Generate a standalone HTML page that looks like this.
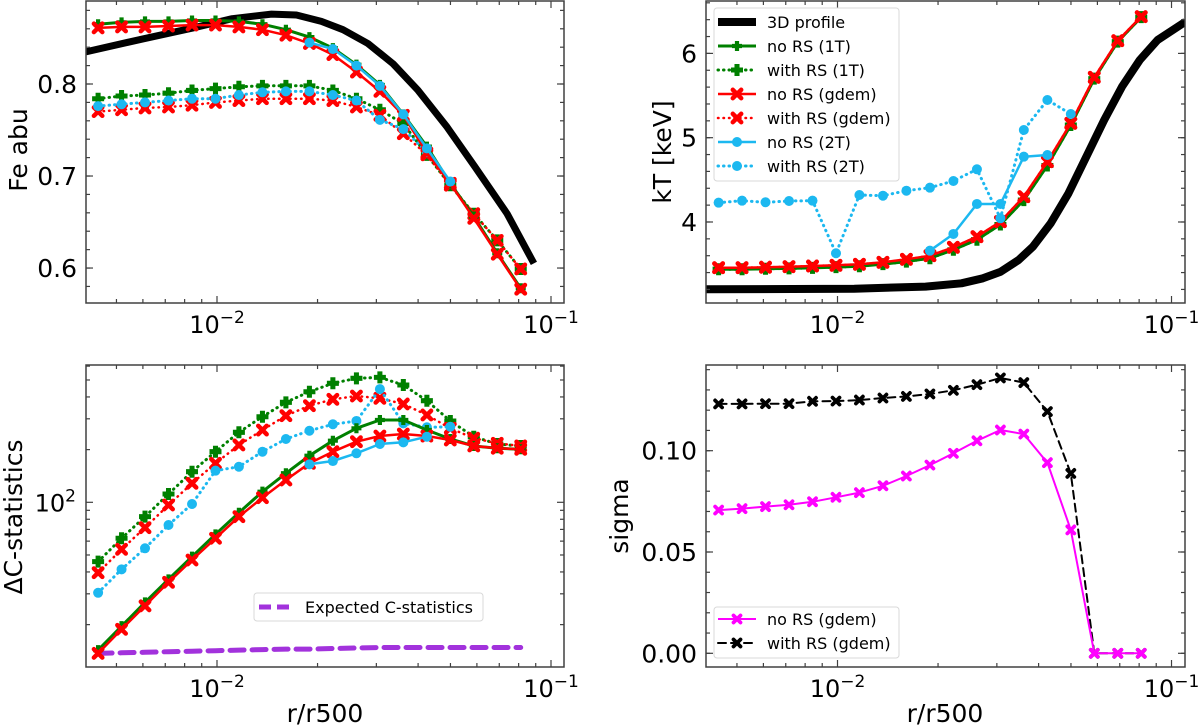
<!DOCTYPE html>
<html><head><meta charset="utf-8"><style>
html,body{margin:0;padding:0;background:#fff;}
svg{display:block;font-family:"DejaVu Sans","Liberation Sans",sans-serif;}
</style></head><body>
<svg id="fig" width="1200" height="727" viewBox="0 0 1200 727" xmlns="http://www.w3.org/2000/svg"></svg>
<script>
// ---------- data ----------
const radii = [0.004406,0.005179,0.006088,0.007159,0.008418,0.009897,0.01163,0.01368,0.01608,0.01891,0.02223,0.02615,0.03074,0.03613,0.04250,0.04995,0.05872,0.06904,0.08117];

// Fe abundance
const feProfileR = [0.00405,0.00600,0.00848,0.01110,0.01456,0.01729,0.02054,0.02384,0.02830,0.03367,0.04000,0.04866,0.05919,0.07390,0.08890];
const feProfileV = [0.835,0.849,0.861,0.871,0.876,0.875,0.868,0.859,0.844,0.822,0.793,0.754,0.710,0.659,0.605];
const feNoRS1T = [0.865,0.867,0.868,0.868,0.869,0.869,0.868,0.865,0.859,0.851,0.839,0.821,0.799,0.767,0.732,0.692,0.656,0.616,0.578];
const feRS1T = [0.784,0.787,0.788,0.790,0.793,0.795,0.797,0.798,0.798,0.798,0.793,0.784,0.772,0.757,0.723,0.690,0.659,0.630,0.599];
const feNoRSgdem = [0.861,0.862,0.862,0.863,0.864,0.864,0.862,0.859,0.853,0.844,0.832,0.813,0.792,0.766,0.725,0.692,0.654,0.615,0.577];
const feRSgdem = [0.770,0.772,0.774,0.775,0.777,0.780,0.782,0.784,0.784,0.784,0.782,0.775,0.766,0.746,0.723,0.690,0.659,0.630,0.599];
const feNoRS2T = [null,null,null,null,null,null,null,null,null,0.845,0.838,0.820,0.798,0.767,0.730,0.694,null,null,null];
const feRS2T = [0.776,0.778,0.780,0.782,0.784,0.784,0.788,0.791,0.792,0.792,0.788,0.782,0.761,0.751,0.726,null,null,null,null];

// Temperature
const ktProfileR = [0.00405,0.01123,0.01836,0.02350,0.02724,0.03081,0.03485,0.03845,0.04348,0.04916,0.05559,0.06286,0.07108,0.08037,0.09088,0.1101];
const ktProfileV = [3.202,3.209,3.233,3.273,3.332,3.410,3.549,3.707,3.985,4.340,4.775,5.210,5.605,5.922,6.159,6.376];
const ktNoRS1T = [3.44,3.44,3.445,3.45,3.455,3.465,3.475,3.50,3.53,3.57,3.67,3.79,3.97,4.26,4.67,5.15,5.70,6.14,6.43];
const ktRS1T = [3.44,3.44,3.445,3.45,3.455,3.465,3.475,3.50,3.53,3.57,3.67,3.79,3.97,4.26,4.67,5.15,5.70,6.14,6.43];
const ktNoRSgdem = [3.458,3.458,3.463,3.470,3.478,3.486,3.498,3.522,3.557,3.600,3.700,3.826,4.004,4.300,4.715,5.171,5.716,6.151,6.436];
const ktRSgdem = [3.458,3.458,3.463,3.470,3.478,3.486,3.498,3.522,3.557,3.600,3.700,3.826,4.004,4.300,4.715,5.171,5.716,6.151,6.436];
const ktNoRS2T = [null,null,null,null,null,null,null,null,null,3.660,3.858,4.214,4.214,4.775,4.795,null,null,null,null];
const ktRS2T = [4.229,4.253,4.234,4.249,4.253,3.629,4.320,4.312,4.371,4.407,4.486,4.625,4.044,5.091,5.447,5.281,null,null,null];

// Delta C-statistics
const dcNoRS1T = [14.3,19.6,26.8,36.3,48.9,65.6,87.2,115.0,146.5,184.6,224.9,264.8,295.3,295.3,258.8,230.0,209.9,203.6,200.9];
const dcRS1T = [45.8,62.3,82.8,111.5,149.6,194.6,251.2,308.3,372.7,428.5,478.6,511.1,517.6,468.1,380.7,291.4,237.1,215.4,209.9];
const dcNoRSgdem = [13.7,18.8,25.6,34.9,46.8,62.3,82.8,106.2,134.1,167.0,194.6,222.0,239.2,245.5,239.2,227.0,209.9,203.6,200.9];
const dcRSgdem = [39.6,53.9,71.6,96.5,128.4,167.0,212.6,258.8,312.6,356.5,387.9,404.9,392.7,364.6,315.5,264.8,232.3,217.3,209.9];
const dcNoRS2T = [null,null,null,null,null,null,null,null,null,164.8,172.1,190.6,215.4,220.2,237.1,null,null,null,null];
const dcRS2T = [30.4,41.4,54.6,74.2,97.8,151.6,159.7,194.6,230.0,256.4,279.2,291.6,443.7,282.7,268.3,270.4,null,null,null];
const dcExpected = [13.7,13.8,13.9,14.0,14.1,14.2,14.3,14.4,14.5,14.5,14.6,14.7,14.8,14.8,14.8,14.8,14.8,14.8,14.8];

// sigma
const sigNoRS = [0.0707,0.0714,0.0724,0.0733,0.0748,0.0770,0.0793,0.0827,0.0875,0.0929,0.0987,0.1049,0.1102,0.1082,0.0941,0.0609,0,0,0];
const sigRS = [0.1231,0.1231,0.1232,0.1232,0.1244,0.1245,0.1250,0.1260,0.1268,0.1280,0.1298,0.1326,0.1359,0.1336,0.1193,0.0888,0,0,0];

const feTicks = [0.6,0.7,0.8];
const ktTicks = [4,5,6];
const sigTicks = [0.00,0.05,0.10];

// ---------- drawing ----------
const NS = "http://www.w3.org/2000/svg";
const fig = document.getElementById('fig');
function mk(tag, attrs, parent){
  const e = document.createElementNS(NS, tag);
  for (const k in attrs) e.setAttribute(k, attrs[k]);
  (parent||fig).appendChild(e);
  return e;
}
const GREEN="#008000", RED="#ff0000", BLUE="#1cb8f0", PURPLE="#a232dc", MAG="#ff00ff";
const FR="#404040";

function makePanel(id, L, R, T, B, xlo, xhi, ylog, ylo, yhi){
  const g = mk('g', {});
  
  
  const cp = mk('clipPath', {id: id+'-clip'}, g);
  mk('rect', {x:L, y:T, width:R-L, height:B-T}, cp);
  const p = {g, L, R, T, B,
    sx: r => L + (Math.log10(r)-xlo)/(xhi-xlo)*(R-L),
    sy: v => ylog ? B - (Math.log10(v)-ylo)/(yhi-ylo)*(B-T) : B - (v-ylo)/(yhi-ylo)*(B-T)};
  p.plot = mk('g', {'clip-path':'url(#'+id+'-clip)'}, g);
  
  
  for (let d=-3; d<=-1; d++){
    for (let m=1; m<=9; m++){
      const r = m*Math.pow(10,d);
      const lx = Math.log10(r);
      if (lx < xlo || lx > xhi) continue;
      const x = p.sx(r), len = m===1?7:4;
      mk('line',{x1:x,y1:B,x2:x,y2:B-len,stroke:FR,'stroke-width':1.2},g);
      mk('line',{x1:x,y1:T,x2:x,y2:T+len,stroke:FR,'stroke-width':1.2},g);
      if (m===1){
        const t = mk('text',{x:x,y:B+30,'font-size':24,'text-anchor':'middle',fill:'#000'},g);
        
        
        t.innerHTML = '10<tspan dy="-10" font-size="17">\u2212' + (-d) + '</tspan>';
      }
    }
  }
  mk('rect',{x:L,y:T,width:R-L,height:B-T,fill:'none',stroke:FR,'stroke-width':1.5},g);
  return p;
}
function yTickLin(p, ticks, minorStep, lo, hi, fmt){
  for (let v=Math.ceil(lo/minorStep)*minorStep; v<=hi; v+=minorStep){
    const y=p.sy(v);
    mk('line',{x1:p.L,y1:y,x2:p.L+4,y2:y,stroke:FR,'stroke-width':1.2},p.g);
    mk('line',{x1:p.R,y1:y,x2:p.R-4,y2:y,stroke:FR,'stroke-width':1.2},p.g);
  }
  ticks.forEach(v=>{
    const y=p.sy(v);
    mk('line',{x1:p.L,y1:y,x2:p.L+7,y2:y,stroke:FR,'stroke-width':1.2},p.g);
    mk('line',{x1:p.R,y1:y,x2:p.R-7,y2:y,stroke:FR,'stroke-width':1.2},p.g);
    const t=mk('text',{x:p.L-9,y:y+9,'font-size':25,'text-anchor':'end',fill:'#000'},p.g);
    
    
    t.textContent=fmt(v);
  });
}
function yLabel(text, x, y, name){
  const t=mk('text',{x:x,y:y,'font-size':25,'text-anchor':'middle',fill:'#000',transform:'rotate(-90 '+x+' '+y+')'});
  
  
  t.textContent=text;
}
function xLabel(text,x,y){
  const t=mk('text',{x:x,y:y,'font-size':25,'text-anchor':'middle',fill:'#000'});
  
  
  t.textContent=text;
}
function marker(parent, type, x, y, color, s){
  s = s||5;
  if (type==='o'){ mk('circle',{cx:x,cy:y,r:s,fill:color},parent); }
  else if (type==='P'){
    const w=s*0.42;
    mk('path',{d:`M${x-w},${y-s}H${x+w}V${y-w}H${x+s}V${y+w}H${x+w}V${y+s}H${x-w}V${y+w}H${x-s}V${y-w}H${x-w}Z`,fill:color},parent);
  } else if (type==='X'){
    mk('path',{d:`M${x-s*0.7},${y-s*0.7}L${x+s*0.7},${y+s*0.7}M${x+s*0.7},${y-s*0.7}L${x-s*0.7},${y+s*0.7}`,stroke:color,'stroke-width':s*0.75,'stroke-linecap':'round'},parent);
  }
}
function series(p, xs, ys, name, color, width, dash, mtype, msize){
  const g=mk('g',{},p.plot);
  
  
  let pts=[];
  xs.forEach((r,i)=>{ if(ys[i]!==null && ys[i]!==undefined) pts.push([p.sx(r),p.sy(ys[i])]); });
  const a={points:pts.map(q=>q[0].toFixed(1)+','+q[1].toFixed(1)).join(' '),fill:'none',stroke:color,'stroke-width':width,'stroke-linejoin':'round'};
  if (dash){ a['stroke-dasharray']=dash; a['stroke-linecap']='round'; }
  mk('polyline',a,g);
  if (mtype) pts.forEach(q=>marker(g,mtype,q[0],q[1],color,msize));
}
function legendBox(x,y,w,h,name){
  const r=mk('rect',{x:x,y:y,width:w,height:h,rx:3,fill:'#fff','fill-opacity':0.8,stroke:'#d8d8d8','stroke-width':1});
  
  
}
function legendEntry(x,y,label,color,width,dash,mtype,msize){
  const g=mk('g',{});
  
  
  const a={x1:x,y1:y,x2:x+38,y2:y,stroke:color,'stroke-width':width};
  if(dash){a['stroke-dasharray']=dash;a['stroke-linecap']='round';}
  mk('line',a,g);
  if(mtype) marker(g,mtype,x+19,y,color,msize);
  const t=mk('text',{x:x+49,y:y+6,'font-size':16,fill:'#000'},g);
  t.textContent=label;
}

const DOT="0.5 5";
const LXHI = -2 + (564-217)/334;

// Panel 1: Fe abundance
const p1 = makePanel('fe-abundance', 86,564,1,303, -2.3922,LXHI, false, 0.562,0.8902);
yTickLin(p1, feTicks, 0.02, 0.562, 0.8902, v=>v.toFixed(1));
series(p1, feProfileR, feProfileV, 'fe-3d-profile', '#000', 7, null, null);
series(p1, radii, feRS1T, 'fe-with-rs-1t', GREEN, 3, DOT, 'P', 6);
series(p1, radii, feRSgdem, 'fe-with-rs-gdem', RED, 2.5, DOT, 'X', 6);
series(p1, radii, feRS2T, 'fe-with-rs-2t', BLUE, 3, DOT, 'o', 5);
series(p1, radii, feNoRS1T, 'fe-no-rs-1t', GREEN, 3, null, 'P', 5);
series(p1, radii, feNoRSgdem, 'fe-no-rs-gdem', RED, 2.5, null, 'X', 6);
series(p1, radii, feNoRS2T, 'fe-no-rs-2t', BLUE, 2.5, null, 'o', 5);
yLabel('Fe abu', 27, 150, 'y-axis-title-fe');

// Panel 2: kT
const p2 = makePanel('temperature', 706,1185,1,303, -2.3937,-0.9596, false, 3.039,6.6216);
yTickLin(p2, ktTicks, 0.2, 3.039, 6.6216, v=>String(v));
series(p2, ktProfileR, ktProfileV, 'kt-3d-profile', '#000', 8, null, null);
series(p2, radii, ktRS1T, 'kt-with-rs-1t', GREEN, 3, DOT, 'P', 6);
series(p2, radii, ktNoRS1T, 'kt-no-rs-1t', GREEN, 3, null, 'P', 5);
series(p2, radii, ktRSgdem, 'kt-with-rs-gdem', RED, 2.5, DOT, 'X', 6);
series(p2, radii, ktNoRSgdem, 'kt-no-rs-gdem', RED, 2.5, null, 'X', 6);
series(p2, radii, ktRS2T, 'kt-with-rs-2t', BLUE, 3, DOT, 'o', 5);
series(p2, radii, ktNoRS2T, 'kt-no-rs-2t', BLUE, 2.5, null, 'o', 5);
yLabel('kT [keV]', 671, 152, 'y-axis-title-kt');
legendBox(714,8,185,173,'kt-legend');
legendEntry(718,22,'3D profile','#000',8,null,null);
legendEntry(718,46,'no RS (1T)',GREEN,3,null,'P',5);
legendEntry(718,70,'with RS (1T)',GREEN,3,DOT,'P',6);
legendEntry(718,94,'no RS (gdem)',RED,2.5,null,'X',6);
legendEntry(718,118,'with RS (gdem)',RED,2.5,DOT,'X',6);
legendEntry(718,142,'no RS (2T)',BLUE,2.5,null,'o',5);
legendEntry(718,166,'with RS (2T)',BLUE,3,DOT,'o',5);

// Panel 3: Delta C
const p3 = makePanel('delta-cstat', 86,564,365,667, -2.3922,LXHI, true, 1.0589,2.7846);
[20,30,40,50,60,70,80,90,200,300,400,500,600].forEach(v=>{
  const y=p3.sy(v); if(y<365) return;
  mk('line',{x1:p3.L,y1:y,x2:p3.L+4,y2:y,stroke:FR,'stroke-width':1.2},p3.g);
  mk('line',{x1:p3.R,y1:y,x2:p3.R-4,y2:y,stroke:FR,'stroke-width':1.2},p3.g);
});
{
  const y=p3.sy(100);
  mk('line',{x1:p3.L,y1:y,x2:p3.L+7,y2:y,stroke:FR,'stroke-width':1.2},p3.g);
  mk('line',{x1:p3.R,y1:y,x2:p3.R-7,y2:y,stroke:FR,'stroke-width':1.2},p3.g);
  const t=mk('text',{x:p3.L-10,y:y+9,'font-size':24,'text-anchor':'end',fill:'#000'},p3.g);
  
  
  t.innerHTML='10<tspan dy="-10" font-size="17">2</tspan>';
}
series(p3, radii, dcExpected, 'expected-cstat', PURPLE, 5, '14 8', null);
series(p3, radii, dcRS1T, 'dc-with-rs-1t', GREEN, 3, DOT, 'P', 6);
series(p3, radii, dcRSgdem, 'dc-with-rs-gdem', RED, 2.5, DOT, 'X', 6);
series(p3, radii, dcRS2T, 'dc-with-rs-2t', BLUE, 3, DOT, 'o', 5);
series(p3, radii, dcNoRS1T, 'dc-no-rs-1t', GREEN, 3, null, 'P', 5);
series(p3, radii, dcNoRSgdem, 'dc-no-rs-gdem', RED, 2.5, null, 'X', 6);
series(p3, radii, dcNoRS2T, 'dc-no-rs-2t', BLUE, 2.5, null, 'o', 5);
yLabel('\u0394C-statistics', 22, 517, 'y-axis-title-dc');
legendBox(254,593,229,28,'dc-legend');
{
  const g=mk('g',{});
  
  
  mk('line',{x1:259,y1:607,x2:293,y2:607,stroke:PURPLE,'stroke-width':5,'stroke-dasharray':'12 6'},g);
  const t=mk('text',{x:305,y:613,'font-size':16,fill:'#000'},g);
  t.textContent='Expected C-statistics';
}
xLabel('r/r500', 325, 722);

// Panel 4: sigma
const p4 = makePanel('sigma', 706,1185,365,667, -2.3937,-0.9596, false, -0.00676,0.1423);
yTickLin(p4, sigTicks, 0.01, -0.00676, 0.1423, v=>v.toFixed(2));
series(p4, radii, sigRS, 'sigma-with-rs-gdem', '#000', 2, '8 5', 'X', 5);
series(p4, radii, sigNoRS, 'sigma-no-rs-gdem', MAG, 2, null, 'X', 5);
yLabel('sigma', 628, 516, 'y-axis-title-sigma');
legendBox(714,607,185,51,'sigma-legend');
legendEntry(718,619,'no RS (gdem)',MAG,2,null,'X',5);
legendEntry(718,643,'with RS (gdem)','#000',2,'8 5','X',5);
xLabel('r/r500', 945, 722);
</script>
</body></html>
